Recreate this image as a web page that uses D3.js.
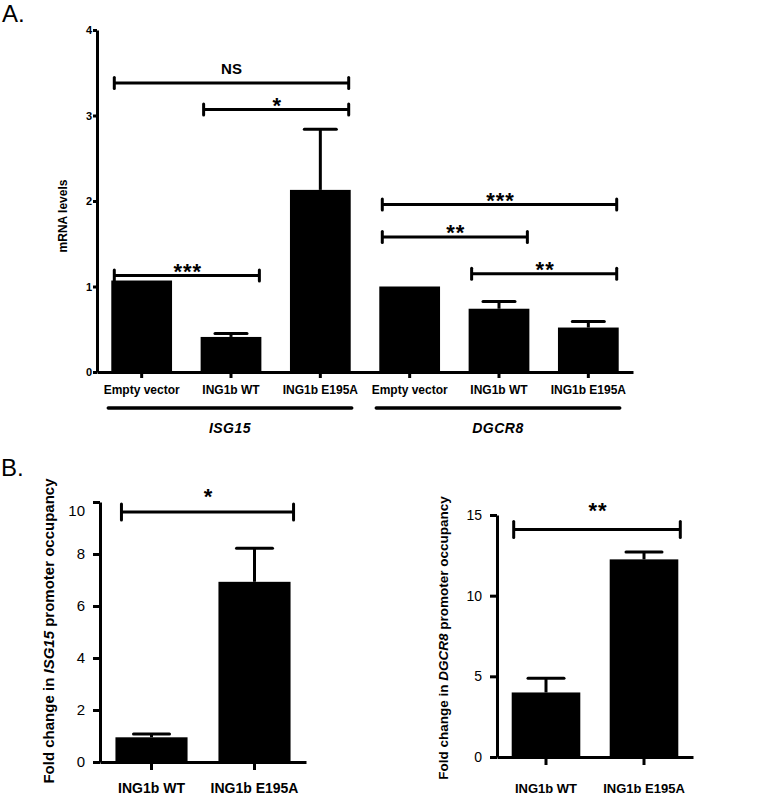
<!DOCTYPE html>
<html><head><meta charset="utf-8">
<script src="https://cdn.jsdelivr.net/npm/d3@7"></script>
<style>
body{margin:0;background:#fff}
svg{display:block;font-family:Arial,"Liberation Sans",sans-serif}
</style></head><body>
<svg id="chart" width="771" height="799"></svg>
<script>
// panel A - mRNA levels
const catsA = ["Empty vector","ING1b WT","ING1b E195A","Empty vector","ING1b WT","ING1b E195A"]
const valsA = [1.07,0.41,2.13,1.0,0.74,0.52]
const errA = [0,0.04,0.71,0,0.085,0.07]
const ticksA = [0,1,2,3,4]
const genesA = [{name:"ISG15",from:0,to:2},{name:"DGCR8",from:3,to:5}]
const sigA = [
  {from:0,to:2,y:3.38,label:"NS"},
  {from:1,to:2,y:3.07,label:"*"},
  {from:0,to:1,y:1.13,label:"***"},
  {from:3,to:5,y:1.96,label:"***"},
  {from:3,to:4,y:1.58,label:"**"},
  {from:4,to:5,y:1.15,label:"**"}
]

// panel B - promoter occupancy
const catsB = ["ING1b WT","ING1b E195A"]
const valsB1 = [0.95,6.93]
const errB1 = [0.13,1.29]
const ticksB1 = [0,2,4,6,8,10]
const sigB1 = [{from:0,to:1,y:9.62,label:"*"}]
const valsB2 = [4.0,12.25]
const errB2 = [0.88,0.45]
const ticksB2 = [0,5,10,15]
const sigB2 = [{from:0,to:1,y:14.1,label:"**"}]

const svg = d3.select("#chart")
const STAR = 22

function bars(g,x,y,vals,errs,capW){
  g.selectAll(".bar").data(vals).enter().append("rect")
    .attr("x",(d,i)=>x(i)).attr("y",d=>y(d))
    .attr("width",x.bandwidth()).attr("height",d=>y(0)-y(d))
    .attr("fill","#000")
  let eb = g.selectAll(".err").data(vals.map((v,i)=>({i:i,v:v,e:errs[i]})).filter(d=>d.e>0))
    .enter().append("g")
  eb.append("line")
    .attr("x1",d=>x(d.i)+x.bandwidth()/2).attr("x2",d=>x(d.i)+x.bandwidth()/2)
    .attr("y1",d=>y(d.v)).attr("y2",d=>y(d.v+d.e))
    .attr("stroke","#000").attr("stroke-width",3)
  eb.append("line")
    .attr("x1",d=>x(d.i)+x.bandwidth()/2-capW/2).attr("x2",d=>x(d.i)+x.bandwidth()/2+capW/2)
    .attr("y1",d=>y(d.v+d.e)).attr("y2",d=>y(d.v+d.e))
    .attr("stroke","#000").attr("stroke-width",3).attr("stroke-linecap","round")
}

function brackets(g,x,y,list,o){
  list.forEach(s=>{
    let x1 = x(s.from)+o.inL, x2 = x(s.to)+x.bandwidth()+o.inR, yy = y(s.y)
    g.append("line").attr("x1",x1).attr("x2",x2).attr("y1",yy).attr("y2",yy)
      .attr("stroke","#000").attr("stroke-width",3)
    ;[x1,x2].forEach(xx=>{
      g.append("line").attr("x1",xx).attr("x2",xx).attr("y1",yy-o.cap).attr("y2",yy+o.cap)
        .attr("stroke","#000").attr("stroke-width",3).attr("stroke-linecap","round")
    })
    let star = s.label.indexOf("*")==0
    g.append("text")
      .attr("x",(x1+x2)/2 + (star?1:0))
      .attr("y",star ? yy-o.gap+0.56*STAR : yy-o.gap)
      .attr("text-anchor","middle")
      .attr("font-size",star?STAR:15).attr("font-weight","bold")
      .attr("letter-spacing",star?1:0)
      .text(s.label)
  })
}

function styleAxis(ax,fs,fw){
  ax.selectAll("path,line").attr("stroke","#000").attr("stroke-width",3)
  ax.selectAll("text").attr("font-size",fs).attr("font-weight",fw)
    .attr("font-family","Arial, 'Liberation Sans', sans-serif").attr("fill","#000")
}

// ---------- A ----------
const gA = svg.append("g")
const xA = d3.scaleBand().domain(d3.range(catsA.length)).range([97,633]).paddingInner(0.32).paddingOuter(0.16)
const yA = d3.scaleLinear().domain([0,4]).range([372,30])

bars(gA,xA,yA,valsA,errA,32)

let axA = gA.append("g").attr("transform","translate(97,0)")
  .call(d3.axisLeft(yA).tickValues(ticksA).tickFormat(d3.format("d")).tickSize(4).tickSizeOuter(0).tickPadding(1))
styleAxis(axA,11,"bold")
let axAx = gA.append("g").attr("transform","translate(0,372)")
  .call(d3.axisBottom(xA).tickFormat(i=>catsA[i]).tickSize(6).tickSizeOuter(0).tickPadding(7))
styleAxis(axAx,12,"bold")

brackets(gA,xA,yA,sigA,{inL:3,inR:-2,cap:5.5,gap:9})

genesA.forEach(gn=>{
  let x1 = xA(gn.from)-3, x2 = xA(gn.to)+xA.bandwidth()+1
  gA.append("line").attr("x1",x1).attr("x2",x2).attr("y1",408).attr("y2",408)
    .attr("stroke","#000").attr("stroke-width",3.5).attr("stroke-linecap","round")
  gA.append("text").attr("x",(x1+x2)/2).attr("y",433).attr("text-anchor","middle")
    .attr("font-size",14).attr("font-weight","bold").attr("font-style","italic")
    .attr("letter-spacing",0.5).text(gn.name)
})

gA.append("text").attr("transform","translate(67,216) rotate(-90)")
  .attr("text-anchor","middle").attr("font-size",12).attr("font-weight","bold")
  .text("mRNA levels")

svg.append("text").attr("x",2).attr("y",22).attr("font-size",24).text("A.")
svg.append("text").attr("x",1).attr("y",476).attr("font-size",24).text("B.")

// ---------- B left ----------
const gB1 = svg.append("g")
const xB1 = d3.scaleBand().domain(d3.range(catsB.length)).range([100,306]).paddingInner(0.3).paddingOuter(0.15)
const yB1 = d3.scaleLinear().domain([0,10]).range([762,502])
bars(gB1,xB1,yB1,valsB1,errB1,36)
let axB1 = gB1.append("g").attr("transform","translate(100,0)")
  .call(d3.axisLeft(yB1).tickValues(ticksB1).tickSize(7).tickSizeOuter(0).tickPadding(8))
styleAxis(axB1,15,"normal")
axB1.selectAll(".tick text").filter(d=>d==10).attr("dy","0.9em")
let axB1x = gB1.append("g").attr("transform","translate(0,762)")
  .call(d3.axisBottom(xB1).tickFormat(i=>catsB[i]).tickSize(8).tickSizeOuter(0).tickPadding(13))
styleAxis(axB1x,14,"bold")
brackets(gB1,xB1,yB1,sigB1,{inL:6,inR:3,cap:8,gap:20})
gB1.append("text").attr("transform","translate(54,631) rotate(-90)")
  .attr("text-anchor","middle").attr("font-size",15).attr("font-weight","bold")
  .call(t=>{
    t.append("tspan").text("Fold change in ")
    t.append("tspan").attr("font-style","italic").text("ISG15")
    t.append("tspan").text(" promoter occupancy")
  })

// ---------- B right ----------
const gB2 = svg.append("g")
const xB2 = d3.scaleBand().domain(d3.range(catsB.length)).range([497,693]).paddingInner(0.3).paddingOuter(0.15)
const yB2 = d3.scaleLinear().domain([0,15]).range([757,515])
bars(gB2,xB2,yB2,valsB2,errB2,36)
let axB2 = gB2.append("g").attr("transform","translate(497,0)")
  .call(d3.axisLeft(yB2).tickValues(ticksB2).tickSize(7).tickSizeOuter(0).tickPadding(8))
styleAxis(axB2,14,"normal")
let axB2x = gB2.append("g").attr("transform","translate(0,757)")
  .call(d3.axisBottom(xB2).tickFormat(i=>catsB[i]).tickSize(8).tickSizeOuter(0).tickPadding(19))
styleAxis(axB2x,13,"bold")
brackets(gB2,xB2,yB2,sigB2,{inL:2,inR:2,cap:8,gap:24})
gB2.append("text").attr("transform","translate(448,638) rotate(-90)")
  .attr("text-anchor","middle").attr("font-size",13.5).attr("font-weight","bold")
  .call(t=>{
    t.append("tspan").text("Fold change in ")
    t.append("tspan").attr("font-style","italic").text("DGCR8")
    t.append("tspan").text(" promoter occupancy")
  })
</script>
</body></html>
